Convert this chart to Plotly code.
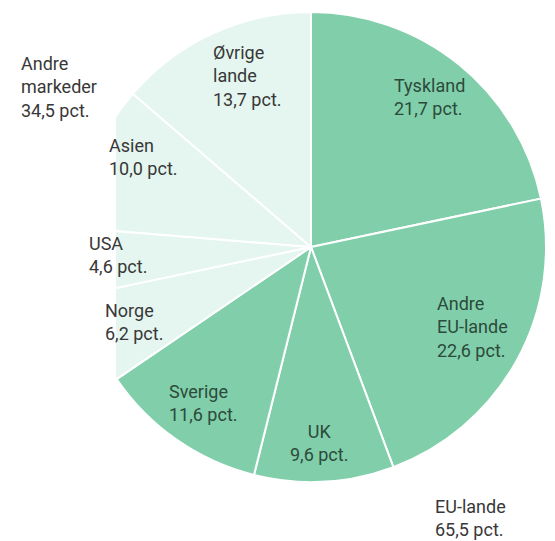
import plotly.graph_objects as go

# ---- data ----
categories = ["Tyskland", "Andre EU-lande", "UK", "Sverige",
              "Norge", "USA", "Asien", "Øvrige lande"]
shares = [21.7, 22.6, 9.6, 11.6, 6.2, 4.6, 10.0, 13.7]
is_eu = [True, True, True, True, False, False, False, False]
group_names = ["EU-lande", "Andre markeder"]

W, H = 555, 541
EU_COLOR = "#80cfaa"
OTHER_COLOR = "#e4f6ef"


def fmt(v):
    return f"{v:.1f}".replace(".", ",") + " pct."


def lbl(name, v):
    return name.replace(" ", "<br>") + "<br>" + fmt(v)


colors = [EU_COLOR if e else OTHER_COLOR for e in is_eu]

# pie geometry (pixels)
cx, cy, r = 311, 247, 235
dom_x = [(cx - r) / W, (cx + r) / W]
dom_y = [(H - cy - r) / H, (H - cy + r) / H]

fig = go.Figure(go.Pie(
    labels=categories,
    values=shares,
    sort=False,
    direction="clockwise",
    rotation=0,
    marker=dict(colors=colors, line=dict(color="white", width=2)),
    textinfo="none",
    hoverinfo="skip",
    showlegend=False,
    domain=dict(x=dom_x, y=dom_y),
))

# label placements: (x_px, y_px_center, xanchor, color)
place = {
    "Tyskland": (392, 97, "left", "#2c4a3b"),
    "Andre EU-lande": (435, 327, "left", "#2c4a3b"),
    "UK": (319, 443, "center", "#2c4a3b"),
    "Sverige": (167, 403, "left", "#2c4a3b"),
    "Norge": (103, 322, "left", "#383838"),
    "USA": (87, 255, "left", "#383838"),
    "Asien": (107, 157, "left", "#383838"),
    "Øvrige lande": (211, 76, "left", "#383838"),
}

FONT = "Roboto, Liberation Sans, Arial, sans-serif"
FS = 18
annotations = []
for name, v in zip(categories, shares):
    x, y, anc, col = place[name]
    annotations.append(dict(
        x=x / W, y=1 - y / H, xref="paper", yref="paper",
        xanchor=anc, yanchor="middle", align=anc,
        text=lbl(name, v), showarrow=False,
        font=dict(family=FONT, size=FS, color=col),
    ))

eu_total = round(sum(v for v, e in zip(shares, is_eu) if e), 1)
other_total = round(sum(v for v, e in zip(shares, is_eu) if not e), 1)
group_place = [(433, 518), (19, 87)]
for gname, tot, (x, y) in zip(group_names, [eu_total, other_total], group_place):
    annotations.append(dict(
        x=x / W, y=1 - y / H, xref="paper", yref="paper",
        xanchor="left", yanchor="middle", align="left",
        text=gname.replace(" ", "<br>") + "<br>" + fmt(tot), showarrow=False,
        font=dict(family=FONT, size=FS, color="#383838"),
    ))

fig.update_layout(
    width=W, height=H,
    margin=dict(l=0, r=0, t=0, b=0),
    paper_bgcolor="white",
    plot_bgcolor="white",
    annotations=annotations,
    shapes=[dict(type="rect", xref="paper", yref="paper",
                 x0=0, x1=116 / W, y0=0, y1=1,
                 fillcolor="white", line=dict(width=0), layer="above")],
)

fig.write_html("out.html",
               config={"displayModeBar": False},
               post_script="document.body.style.margin='0';document.body.style.overflow='hidden';")
